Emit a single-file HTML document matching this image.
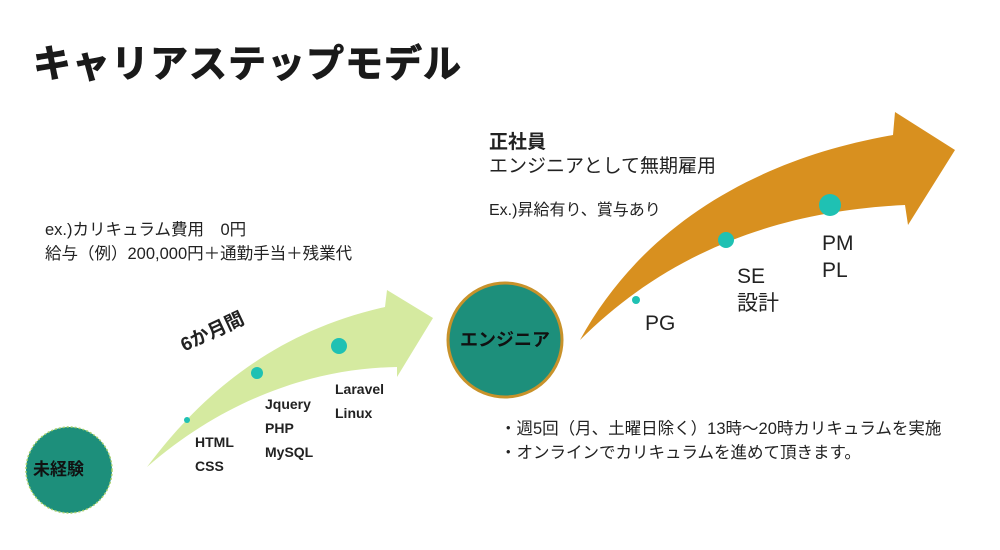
<!DOCTYPE html>
<html><head><meta charset="utf-8"><style>
body{margin:0;width:1000px;height:550px;background:#fff;overflow:hidden;position:relative;font-family:"Liberation Sans","Noto Sans CJK JP",sans-serif;color:#222}
.t{position:absolute;white-space:nowrap;line-height:1}
.b{font-weight:bold}
</style></head><body>
<svg width="1000" height="550" style="position:absolute;left:0;top:0">
<path d="M147,467 C190,410 260,335 385,307 L387,290 L433,318 L397,377 L397,367 C320,368 230,395 147,467 Z" fill="#d5eaa0"/>
<path d="M580,340 C640,230 750,160 893,135 L895,112 L955,150 L908,225 L905,205 C800,210 680,240 580,340 Z" fill="#d8901f"/>
<circle cx="187" cy="420" r="3" fill="#1fc1b3"/>
<circle cx="257" cy="373" r="6" fill="#1fc1b3"/>
<circle cx="339" cy="346" r="8" fill="#1fc1b3"/>
<circle cx="636" cy="300" r="4" fill="#1fc1b3"/>
<circle cx="726" cy="240" r="8" fill="#1fc1b3"/>
<circle cx="830" cy="205" r="11" fill="#1fc1b3"/>
<circle cx="69" cy="470" r="43" fill="#1d8f7b" stroke="#a6cf6a" stroke-width="1.5" stroke-dasharray="2 2"/>
<circle cx="505" cy="340" r="57" fill="#1d8f7b" stroke="#c8922a" stroke-width="3"/>
</svg>
<div class="t b" style="left:33px;top:46px;font-size:38px;letter-spacing:1px;color:#1a1a1a;-webkit-text-stroke:1px #1a1a1a">キャリアステップモデル</div>
<div class="t" style="left:45px;top:222px;font-size:16.5px">ex.)カリキュラム費用　0円</div>
<div class="t" style="left:45px;top:246px;font-size:16.5px">給与（例）200,000円＋通勤手当＋残業代</div>
<div class="t b" style="left:178px;top:338px;font-size:19px;transform:rotate(-25deg);transform-origin:left top">6か月間</div>
<div class="t b" style="left:195px;top:430px;font-size:14px;line-height:24px">HTML<br>CSS</div>
<div class="t b" style="left:265px;top:392px;font-size:14px;line-height:24px">Jquery<br>PHP<br>MySQL</div>
<div class="t b" style="left:335px;top:377px;font-size:14px;line-height:24px">Laravel<br>Linux</div>
<div class="t b" style="left:33px;top:461px;font-size:17px;color:#111">未経験</div>
<div class="t b" style="left:460px;top:331px;font-size:18px;color:#111">エンジニア</div>
<div class="t b" style="left:489px;top:133px;font-size:19px">正社員</div>
<div class="t" style="left:489px;top:157px;font-size:19px">エンジニアとして無期雇用</div>
<div class="t" style="left:489px;top:203px;font-size:16px">Ex.)昇給有り、賞与あり</div>
<div class="t" style="left:645px;top:313px;font-size:21px">PG</div>
<div class="t" style="left:737px;top:263px;font-size:21px;line-height:27px">SE<br>設計</div>
<div class="t" style="left:822px;top:230px;font-size:21px;line-height:27px">PM<br>PL</div>
<div class="t" style="left:500px;top:417px;font-size:16.5px;line-height:24px">・週5回（月、土曜日除く）13時～20時カリキュラムを実施<br>・オンラインでカリキュラムを進めて頂きます。</div>
</body></html>
